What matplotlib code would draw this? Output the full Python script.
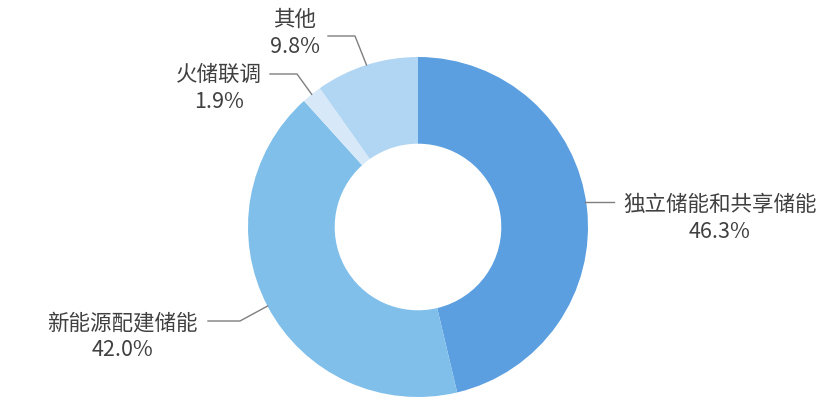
import numpy as np
import matplotlib
matplotlib.use("Agg")
import matplotlib.pyplot as plt

plt.rcParams['font.family'] = ['Noto Sans CJK SC', 'DejaVu Sans']

categories = ['独立储能和共享储能', '新能源配建储能', '火储联调', '其他']
values = [46.3, 42.0, 1.9, 9.8]
pct_labels = ['46.3%', '42.0%', '1.9%', '9.8%']
colors = ['#5B9FE0', '#7FBFEA', '#D7E9F8', '#B1D6F3']

W, H = 836, 402
fig = plt.figure(figsize=(W / 100, H / 100), dpi=100)
ax = fig.add_axes([0, 0, 1, 1])

cx, cy, R = 418, H - 228, 170
wedges, _ = ax.pie(values, colors=colors, startangle=90, counterclock=False,
                   center=(cx, cy), radius=R,
                   wedgeprops=dict(width=R * 0.51, linewidth=0),
                   frame=True)
ax.set_xlim(0, W)
ax.set_ylim(0, H)
ax.set_aspect('equal')
ax.axis('off')

layout = [
    dict(tx=720, ty=205, kx=614),
    dict(tx=122, ty=323, kx=240, hx=208, ly=322),
    dict(tx=219, ty=75, kx=297, hx=270, ly=75),
    dict(tx=295, ty=20, kx=355, hx=328, ly=37),
]
text_color = '#404040'
line_color = '#7f7f7f'
fs = 15.5

for i, w in enumerate(wedges):
    ang = np.deg2rad((w.theta1 + w.theta2) / 2)
    ex = cx + R * np.cos(ang)
    ey = cy + R * np.sin(ang)
    L = layout[i]
    if i == 0:
        ax.plot([ex - 2, L['kx']], [H - 203, H - 203], color=line_color, lw=1)
    else:
        ax.plot([ex, L['kx'], L['hx']], [ey, H - L['ly'], H - L['ly']],
                color=line_color, lw=1)
    ax.text(L['tx'], H - L['ty'], categories[i], ha='center', va='center',
            fontsize=fs, color=text_color)
    ax.text(L['tx'], H - L['ty'] - 27, pct_labels[i], ha='center', va='center',
            fontsize=fs, color=text_color)

fig.savefig('out.png', dpi=100, facecolor='white')
